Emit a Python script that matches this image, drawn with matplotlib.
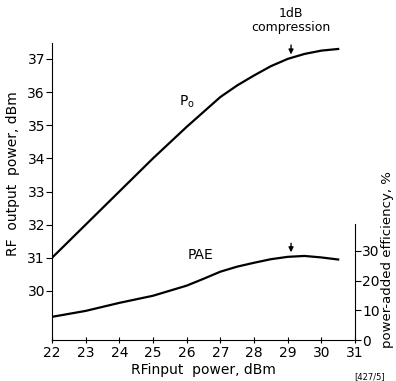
import numpy as np
import matplotlib
matplotlib.use("Agg")
import matplotlib.pyplot as plt

plt.rcParams['font.family'] = ['DejaVu Sans']

# data
pin = [22, 23, 24, 25, 26, 26.5, 27, 27.5, 28, 28.5, 29, 29.5, 30, 30.5]
po = [31.0, 32.0, 33.0, 34.0, 34.95, 35.4, 35.85, 36.2, 36.5, 36.78, 37.0, 37.15, 37.25, 37.3]
pae = [7.8, 9.8, 12.5, 14.9, 18.3, 20.6, 23.0, 24.7, 26.0, 27.2, 28.0, 28.3, 27.8, 27.1]
xticks = [22, 23, 24, 25, 26, 27, 28, 29, 30, 31]
left_ticks = [30, 31, 32, 33, 34, 35, 36, 37]
right_ticks = [0, 10, 20, 30]
arrow_x = 29.1

fig = plt.figure(figsize=(3.96, 3.81), dpi=100)
ax = fig.add_axes([52/396, 1-340/381, (355-52)/396, (340-43)/381])
ax2 = ax.twinx()

ax.plot(pin, po, color='black', lw=1.6)
ax2.plot(pin, pae, color='black', lw=1.6)

ax.set_xlim(22, 31)
ax.set_ylim(28.52, 37.48)
ax2.set_ylim(0, 100)

ax.set_xticks(xticks)
ax.set_yticks(left_ticks)
ax2.set_yticks(right_ticks)

for a in (ax, ax2):
    a.spines['top'].set_visible(False)
ax.spines['right'].set_visible(False)
ax2.spines['left'].set_visible(False)
ax2.spines['bottom'].set_visible(False)
ax2.spines['right'].set_bounds(0, 39)

ax.tick_params(axis='x', direction='inout', length=5, labelsize=10, pad=2)
ax.tick_params(axis='y', direction='out', length=4, labelsize=10, pad=1)
ax2.tick_params(axis='y', direction='out', length=4, labelsize=10, pad=1)

ax.set_xlabel('RFinput  power, dBm', fontsize=10, labelpad=2)
ax.set_ylabel('RF  output  power, dBm', fontsize=10)
ax.yaxis.set_label_coords(-0.105, 0.56)
ax2.set_ylabel('power-added efficiency, %', fontsize=9.5)
ax2.yaxis.set_label_coords(1.085, 0.27)

# annotations
ax.annotate('', xy=(arrow_x, 37.05), xytext=(arrow_x, 37.5),
            arrowprops=dict(arrowstyle='-|>', color='black', lw=1, mutation_scale=7),
            annotation_clip=False)
ax.text(arrow_x, 38.15, '1dB\ncompression', ha='center', va='center', fontsize=9,
        linespacing=1.1)
ax2.annotate('', xy=(arrow_x, 28.6), xytext=(arrow_x, 33.5),
             arrowprops=dict(arrowstyle='-|>', color='black', lw=1, mutation_scale=7))
ax.text(26.0, 35.7, r'P$_\mathregular{o}$', fontsize=10, ha='center', va='center')
ax2.text(26.4, 28.5, 'PAE', fontsize=10, ha='center', va='center')
fig.text(370/396, 1-377/381, '[427/5]', fontsize=6, ha='center', va='center')

fig.savefig('out.png', dpi=100)
